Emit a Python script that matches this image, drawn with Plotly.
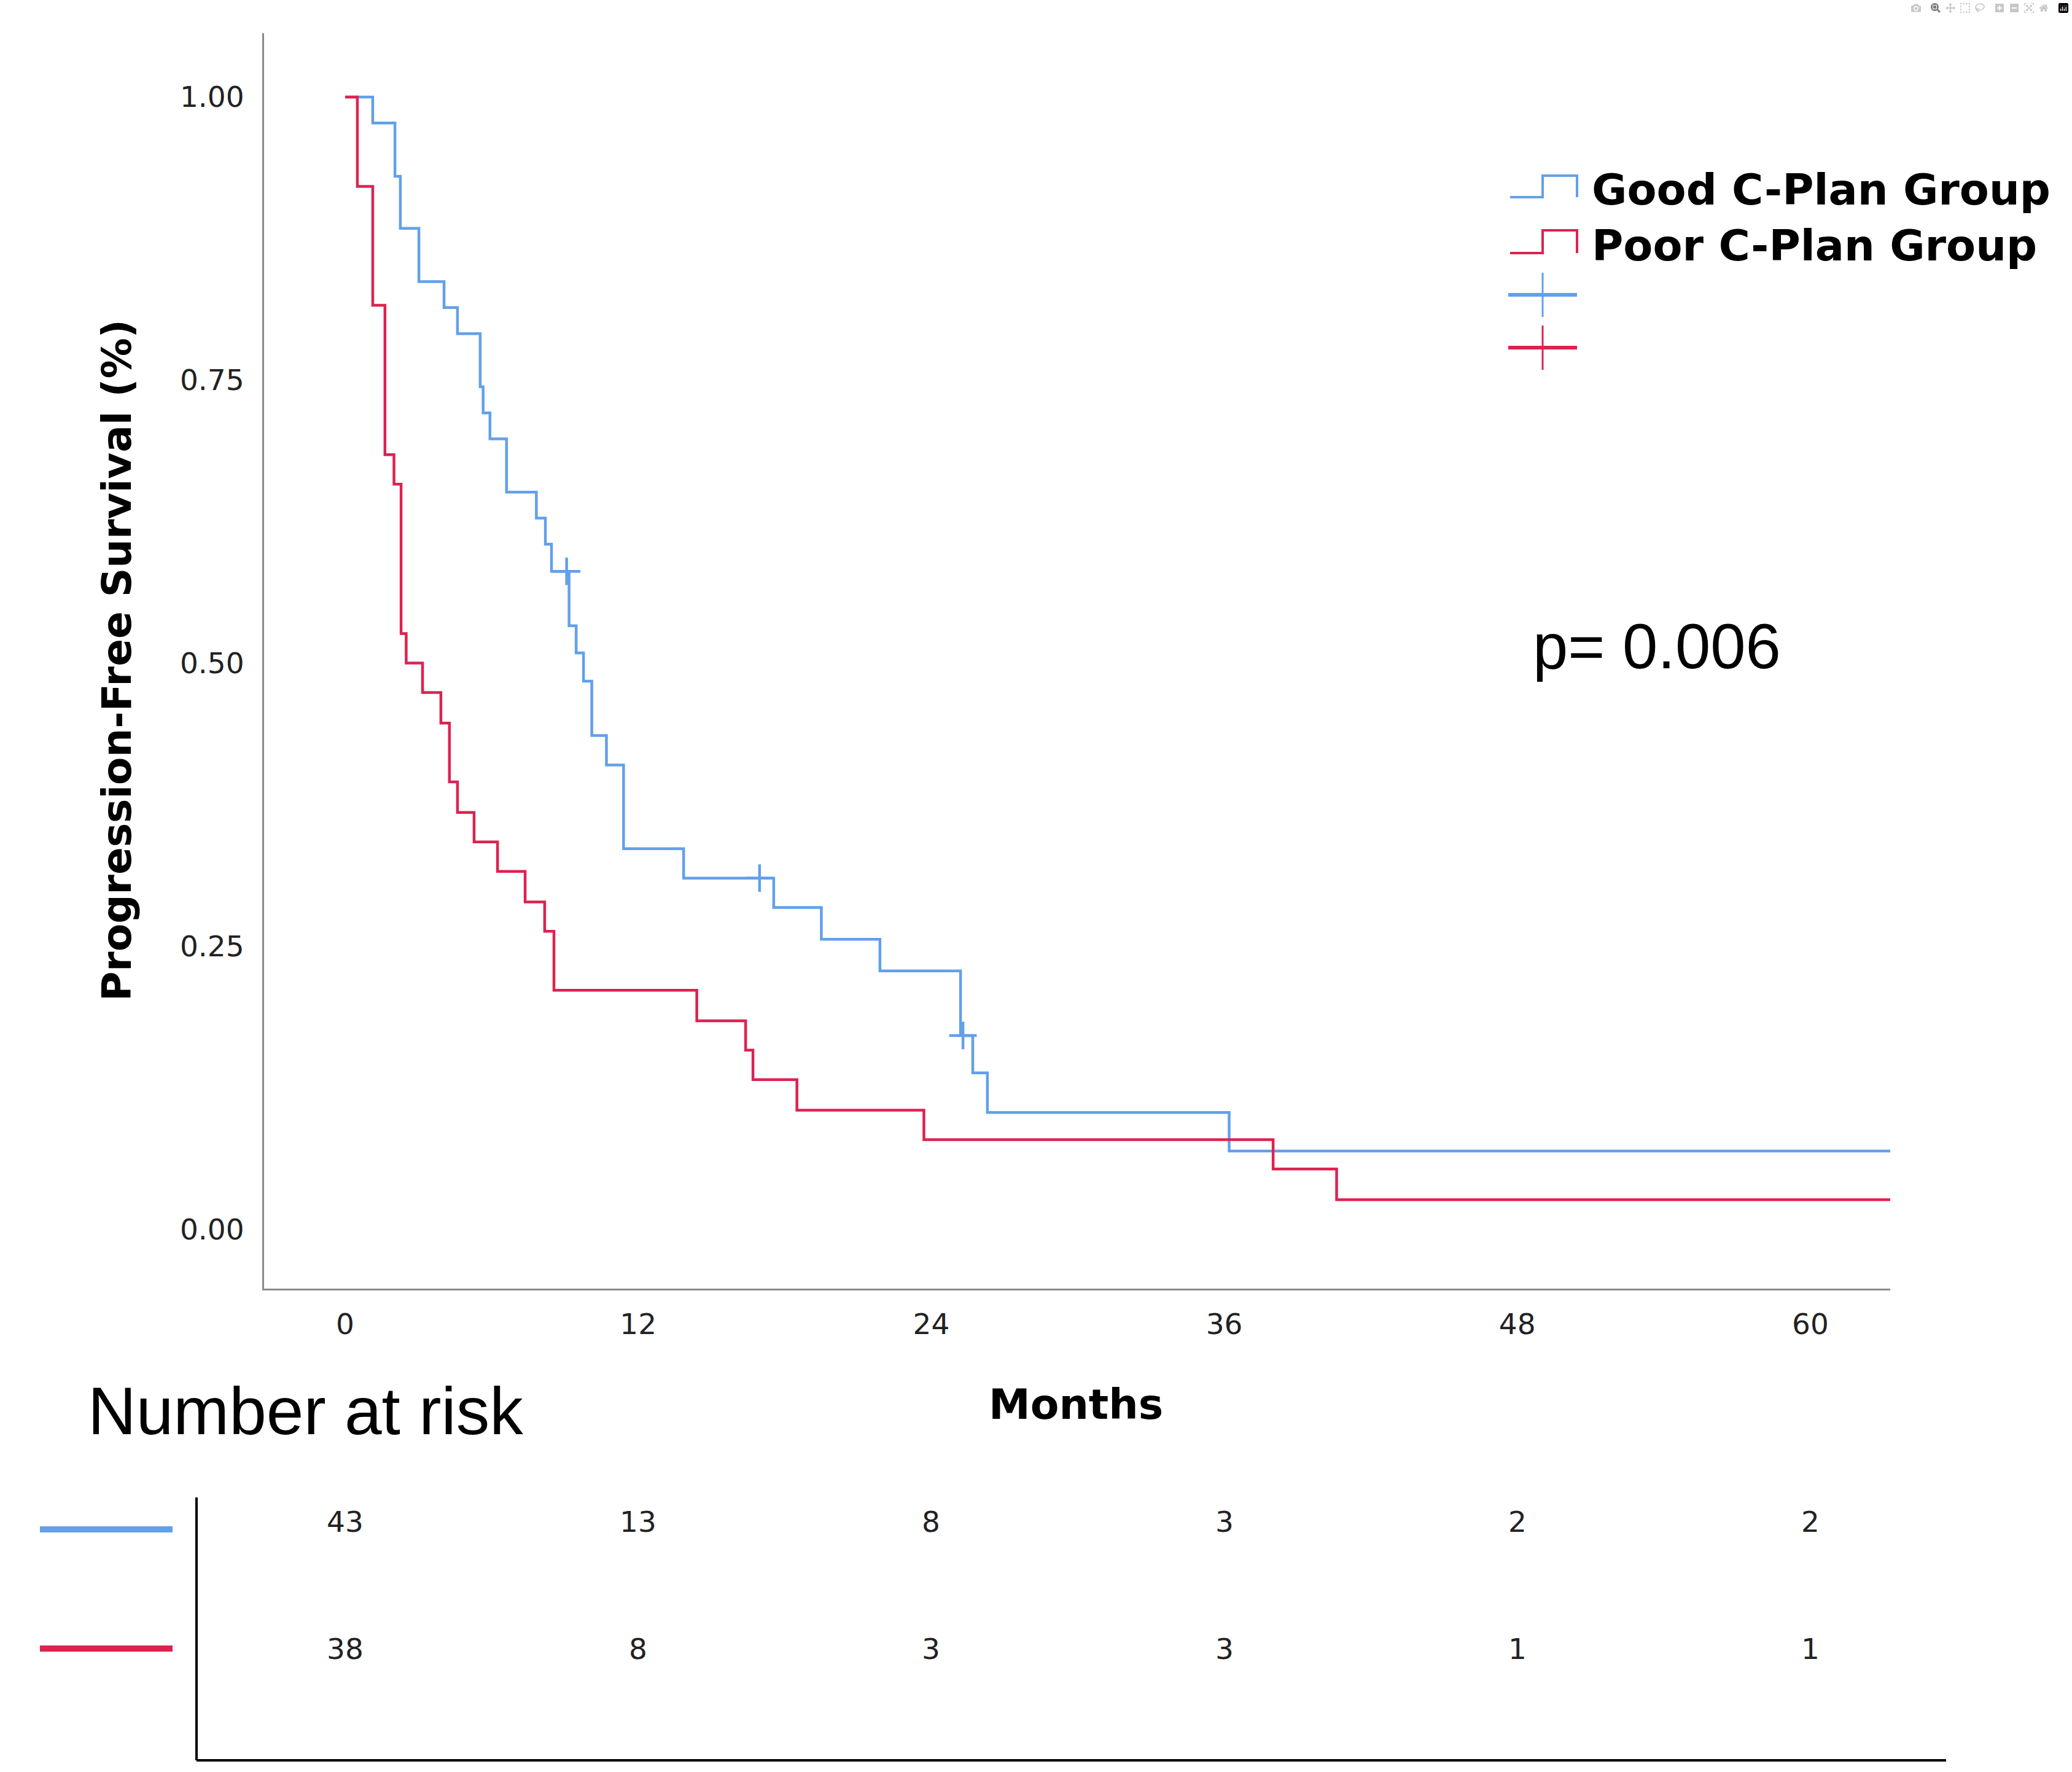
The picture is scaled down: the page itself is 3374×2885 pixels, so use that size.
import plotly.graph_objects as go

# Kaplan-Meier steps (months, survival)
good_t = [0, 1.13, 2.04, 2.26, 3.02, 4.05, 4.6, 5.53, 5.65, 5.93, 6.61, 7.83, 8.2, 8.45,
          9.17, 9.46, 9.76, 10.1, 10.7, 11.4, 13.86, 17.55, 19.5, 21.9, 25.2, 25.7, 26.3,
          36.2, 63.3]
good_s = [1.0, 0.977, 0.930, 0.884, 0.837, 0.814, 0.791, 0.744, 0.721, 0.698, 0.651, 0.628,
          0.605, 0.581, 0.533, 0.509, 0.484, 0.436, 0.410, 0.336, 0.310, 0.284, 0.256, 0.228,
          0.171, 0.138, 0.103, 0.069, 0.069]

poor_t = [0, 0.5, 1.13, 1.63, 2.0, 2.29, 2.5, 3.17, 3.92, 4.27, 4.6, 5.28, 6.24, 7.37, 8.17,
          8.55, 14.4, 16.4, 16.7, 18.5, 23.7, 38.0, 40.6, 63.3]
poor_s = [1.0, 0.921, 0.816, 0.684, 0.658, 0.526, 0.500, 0.474, 0.447, 0.395, 0.368, 0.342,
          0.316, 0.289, 0.263, 0.211, 0.184, 0.158, 0.132, 0.105, 0.079, 0.053, 0.026, 0.026]

# censored observations (only visible in the good group)
good_cens_t = [9.07, 16.97, 25.3]
good_cens_s = [0.581, 0.310, 0.171]

# number at risk table
risk_months = [0, 12, 24, 36, 48, 60]
good_risk = [43, 13, 8, 3, 2, 2]
poor_risk = [38, 8, 3, 3, 1, 1]

group_names = ["Good C-Plan Group", "Poor C-Plan Group"]
p_text = "p= 0.006"

BLUE = "#62a0ea"
RED = "#dc2350"
W, H = 3374, 2885


def px(x):
    return x / W


def py(y):
    return 1 - y / H


fig = go.Figure()

fig.add_trace(go.Scatter(x=good_t, y=good_s, mode="lines", line_shape="hv",
                         line=dict(color=BLUE, width=4.5), name=group_names[0]))
fig.add_trace(go.Scatter(x=poor_t, y=poor_s, mode="lines", line_shape="hv",
                         line=dict(color=RED, width=4.5), name=group_names[1]))
fig.add_trace(go.Scatter(x=good_cens_t, y=good_cens_s, mode="markers",
                         marker=dict(symbol="cross-thin", size=32, line=dict(color=BLUE, width=4.5)),
                         name="censored"))

tick_font = dict(family="DejaVu Sans", size=47, color="#222222")

fig.update_layout(
    width=W, height=H,
    margin=dict(l=0, r=0, t=0, b=0),
    paper_bgcolor="white", plot_bgcolor="white",
    showlegend=False,
    xaxis=dict(domain=[px(430), px(3078)], range=[-3.32, 63.27],
               tickvals=risk_months, showgrid=False, zeroline=False,
               showline=True, linecolor="#8a8a8a", linewidth=3,
               ticks="outside", ticklen=15, tickcolor="rgba(0,0,0,0)",
               tickfont=tick_font, automargin=False),
    yaxis=dict(domain=[py(2098), py(54)], range=[-0.0526, 1.0564],
               tickvals=[0, 0.25, 0.5, 0.75, 1.0], tickformat=".2f",
               showgrid=False, zeroline=False,
               showline=True, linecolor="#8a8a8a", linewidth=3,
               ticks="outside", ticklen=20, tickcolor="rgba(0,0,0,0)",
               tickfont=tick_font, automargin=False),
)


def label(x, y, text, size, family="DejaVu Sans", xanchor="center", **kw):
    return dict(x=x, y=y, xref=kw.pop("xref", "paper"), yref="paper",
                xanchor=xanchor, yanchor="middle", text=text, showarrow=False,
                font=dict(family=family, size=size, color=kw.pop("color", "black")), **kw)


ann = [
    label(px(190), py(1075), "<b>Progression-Free Survival (%)</b>", 66, textangle=-90),
    label(px(1752), py(2286), "<b>Months</b>", 68),
    label(px(2494), py(1053), p_text, 103, family="Liberation Sans", xanchor="left"),
    label(px(141), py(2297), "Number at risk", 109, family="Liberation Sans", xanchor="left"),
]

# legend texts
for name, yy in zip(group_names, [309, 400]):
    ann.append(label(px(2590), py(yy), "<b>" + name + "</b>", 70, xanchor="left"))

# risk table numbers aligned to the months axis
for counts, yy in zip([good_risk, poor_risk], [2477, 2684]):
    for m, n in zip(risk_months, counts):
        ann.append(label(m, py(yy), str(n), 47, xref="x", color="#222222"))

fig.update_layout(annotations=ann)

shapes = []
# legend step glyphs
for col, lo, hi in [(BLUE, 321, 286), (RED, 412, 375)]:
    path = "M {a},{l} L {b},{l} L {b},{h} L {c},{h} L {c},{l}".format(
        a=px(2459), b=px(2512), c=px(2568), l=py(lo), h=py(hi))
    shapes.append(dict(type="path", path=path, xref="paper", yref="paper",
                       line=dict(color=col, width=4)))
# legend censor glyphs
for col, cy in [(BLUE, 480), (RED, 566)]:
    shapes.append(dict(type="line", xref="paper", yref="paper",
                       x0=px(2456), x1=px(2568), y0=py(cy), y1=py(cy),
                       line=dict(color=col, width=6)))
    shapes.append(dict(type="line", xref="paper", yref="paper",
                       x0=px(2512), x1=px(2512), y0=py(cy - 36), y1=py(cy + 36),
                       line=dict(color=col, width=3)))

# risk table frame and colour keys
shapes.append(dict(type="line", xref="paper", yref="paper",
                   x0=px(320), x1=px(320), y0=py(2438), y1=py(2866),
                   line=dict(color="black", width=4)))
shapes.append(dict(type="line", xref="paper", yref="paper",
                   x0=px(320), x1=px(3169), y0=py(2866), y1=py(2866),
                   line=dict(color="black", width=4)))
for col, yy in [(BLUE, 2490), (RED, 2684)]:
    shapes.append(dict(type="line", xref="paper", yref="paper",
                       x0=px(65), x1=px(281), y0=py(yy), y1=py(yy),
                       line=dict(color=col, width=10)))

fig.update_layout(shapes=shapes)

fig.write_html("out.html", post_script="document.body.style.margin='0';")
